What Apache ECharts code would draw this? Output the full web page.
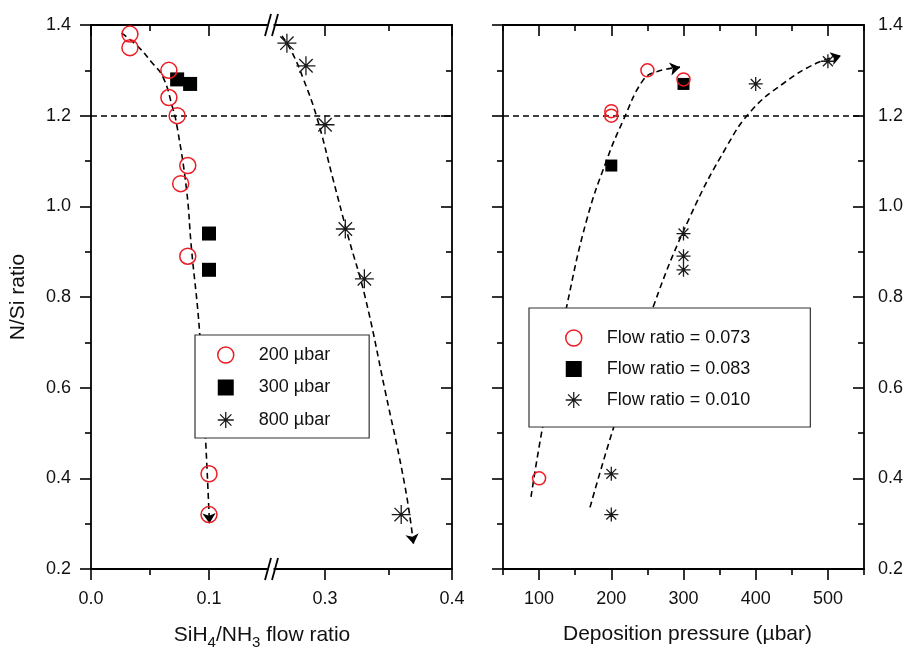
<!DOCTYPE html>
<html>
<head>
<meta charset="utf-8">
<title>N/Si ratio</title>
<script src="https://cdn.jsdelivr.net/npm/echarts@6/dist/echarts.min.js"></script>
<style>
  html, body { margin: 0; padding: 0; background: #fff; }
  #chart { width: 904px; height: 650px; }
</style>
</head>
<body>
<div id="chart"></div>
<script>
// N/Si ratio of deposited films: against SiH4/NH3 flow ratio (left, split axis)
// and against deposition pressure (right).

// ---- left panel: N/Si vs flow ratio, one series per pressure ----
const flow200 = [[0.033, 1.38], [0.033, 1.35], [0.066, 1.30], [0.066, 1.24], [0.073, 1.20],
                 [0.082, 1.09], [0.076, 1.05], [0.082, 0.89], [0.100, 0.41], [0.100, 0.32]];
const flow300 = [[0.073, 1.28], [0.084, 1.27], [0.100, 0.94], [0.100, 0.86]];
const flow800 = [[0.270, 1.36], [0.285, 1.31], [0.300, 1.18], [0.316, 0.95], [0.331, 0.84], [0.360, 0.32]];

// hand-drawn trend lines (end with an arrow)
const trend200 = [[0.026, 1.382], [0.040, 1.352], [0.051, 1.319], [0.061, 1.285], [0.069, 1.219],
                  [0.073, 1.175], [0.081, 1.036], [0.085, 0.911], [0.092, 0.724], [0.097, 0.491], [0.1004, 0.301]];
const trend800 = [[0.2661, 1.376], [0.2740, 1.340], [0.2827, 1.283], [0.2935, 1.197], [0.3065, 1.058],
                  [0.3183, 0.933], [0.3315, 0.801], [0.3472, 0.595], [0.3630, 0.382], [0.3697, 0.255]];

// ---- right panel: N/Si vs deposition pressure, one series per flow ratio ----
const press073 = [[100, 0.40], [200, 1.21], [200, 1.20], [250, 1.30], [300, 1.28]];
const press083 = [[200, 1.09], [300, 1.27]];
const press010 = [[200, 0.41], [200, 0.32], [300, 0.94], [300, 0.89], [300, 0.86], [400, 1.27], [500, 1.32]];

const trend073 = [[88.8, 0.359], [105.0, 0.514], [138.2, 0.779], [165.9, 0.970], [193.6, 1.102],
                  [216.6, 1.190], [244.3, 1.279], [262.9, 1.297], [295.2, 1.307]];
const trend010 = [[170.5, 0.336], [202.8, 0.510], [258.2, 0.779], [309.0, 0.977], [359.8, 1.132],
                  [394.5, 1.212], [438.2, 1.271], [484.5, 1.316], [518.1, 1.332]];

// stoichiometric reference level
const stoichLevel = 1.2;

// axis ranges and tick values
const ratioRange = [0.2, 1.4];
const ratioStep = 0.2;
const flowLowRange = [0, 0.15];
const flowLowMajor = [0, 0.1];
const flowLowMinor = [0.05];
const flowHighRange = [0.26, 0.4];
const flowHighMajor = [0.3, 0.4];
const flowHighMinor = [0.35];
const pressRange = [50, 550];
const pressMajor = [100, 200, 300, 400, 500];
const pressMinor = [50, 150, 250, 350, 450, 550];

const legendLeft = ['200 \u00b5bar', '300 \u00b5bar', '800 \u00b5bar'];
const legendRight = ['Flow ratio = 0.073', 'Flow ratio = 0.083', 'Flow ratio = 0.010'];

// ---- styling ----
const FONT = '"Liberation Sans", Arial, Helvetica, sans-serif';
const INK = '#000';
const RED = '#ec1c24';
const STAR = 'path://M0,-10L0,10M-10,0L10,0M-7.07,-7.07L7.07,7.07M-7.07,7.07L7.07,-7.07M-1,-1L1,-1L1,1L-1,1Z';
const SQUARE = 'path://M0,0L10,0L10,10L0,10Z';
const DASH = [6, 4];
const MAJOR = 11, MINOR = 6;

function baseAxis(extra) {
  return Object.assign({
    type: 'value',
    splitLine: { show: false },
    axisLine: { show: false, onZero: false, lineStyle: { color: INK, width: 1.8 } },
    axisTick: { show: false },
    axisLabel: { show: false },
    minorTick: { show: false }
  }, extra);
}

function tickSet(values, len, inside) {
  return { show: true, customValues: values, length: len, inside: inside, lineStyle: { color: INK, width: 1.6 } };
}

// four x axes per grid: bottom major (+labels), bottom minor, top major, top minor
function xAxesFor(gridIndex, range, major, minor, fmt) {
  const common = { gridIndex: gridIndex, min: range[0], max: range[1] };
  return [
    baseAxis(Object.assign({}, common, {
      position: 'bottom',
      axisLine: { show: true, onZero: false, lineStyle: { color: INK, width: 1.8 } },
      axisTick: tickSet(major, MAJOR, false),
      axisLabel: { show: true, customValues: major, formatter: fmt, margin: 21,
                   fontSize: 18, fontFamily: FONT, color: '#111' }
    })),
    baseAxis(Object.assign({}, common, { position: 'bottom', axisTick: tickSet(minor, MINOR, false) })),
    baseAxis(Object.assign({}, common, {
      position: 'top',
      axisLine: { show: true, onZero: false, lineStyle: { color: INK, width: 1.8 } },
      axisTick: tickSet(major, MAJOR, true)
    })),
    baseAxis(Object.assign({}, common, { position: 'top', axisTick: tickSet(minor, MINOR, true) }))
  ];
}

function yAxisFor(gridIndex, position, inside, labels, extra) {
  return baseAxis(Object.assign({
    gridIndex: gridIndex,
    position: position,
    min: ratioRange[0], max: ratioRange[1], interval: ratioStep,
    axisLine: { show: true, onZero: false, lineStyle: { color: INK, width: 1.8 } },
    axisTick: { show: true, length: MAJOR, inside: inside, lineStyle: { color: INK, width: 1.6 } },
    minorTick: { show: true, splitNumber: 2, length: MINOR, lineStyle: { color: INK, width: 1.6 } },
    axisLabel: labels ? Object.assign({ show: true, formatter: v => v.toFixed(1),
                                        fontSize: 18, fontFamily: FONT, color: '#111' }, labels)
                      : { show: false }
  }, extra || {}));
}

const xAxes = []
  .concat(xAxesFor(0, flowLowRange, flowLowMajor, flowLowMinor, v => v.toFixed(1)))
  .concat(xAxesFor(1, flowHighRange, flowHighMajor, flowHighMinor, v => v.toFixed(1)))
  .concat(xAxesFor(2, pressRange, pressMajor, pressMinor, v => String(v)));

// pressure axis title
Object.assign(xAxes[8], {
  name: 'Deposition pressure (\u00b5bar)',
  nameLocation: 'middle',
  nameGap: 55,
  nameTextStyle: { fontSize: 21, fontFamily: FONT, color: '#111', padding: [0, 0, 0, 8] }
});

const yAxes = [
  yAxisFor(0, 'left', false, { margin: 20 }, {
    name: 'N/Si ratio', nameLocation: 'middle', nameGap: 62,
    nameTextStyle: { fontSize: 21, fontFamily: FONT, color: '#111' }
  }),
  yAxisFor(1, 'right', true, null),
  yAxisFor(2, 'left', false, null),
  yAxisFor(2, 'right', true, { margin: 14 })
];

const refLine = {
  silent: true,
  symbol: 'none',
  label: { show: false },
  lineStyle: { color: INK, type: DASH, width: 1.6, opacity: 1 },
  data: [{ yAxis: stoichLevel }]
};

const markStyles = {
  circle: { symbol: 'circle', z: 5,
            itemStyle: { color: 'rgba(255,255,255,0)', borderColor: RED, borderWidth: 1.5, opacity: 1 } },
  square: { symbol: SQUARE, z: 4,
            itemStyle: { color: INK, borderColor: INK, borderWidth: 0, opacity: 1 } },
  star: { symbol: STAR, z: 4,
          itemStyle: { color: '#1a1a1a', borderColor: '#1a1a1a', borderWidth: 1.3, opacity: 1 } }
};

function scatter(name, data, xi, yi, kind, size, extra) {
  const s = markStyles[kind];
  return Object.assign({
    type: 'scatter', name: name, data: data, xAxisIndex: xi, yAxisIndex: yi,
    symbol: s.symbol, symbolSize: size, itemStyle: s.itemStyle, z: s.z,
    silent: true, animation: false
  }, extra || {});
}

function trendLine(data, xi, yi) {
  return [
    {
      type: 'line', data: data, xAxisIndex: xi, yAxisIndex: yi,
      smooth: 0.45, symbol: 'none', showSymbol: false, silent: true, animation: false, z: 2,
      lineStyle: { color: INK, type: DASH, width: 1.6, opacity: 1 }
    },
    {
      // arrowhead at the end of the trend line
      type: 'lines', coordinateSystem: 'cartesian2d', xAxisIndex: xi, yAxisIndex: yi,
      data: [{ coords: data.slice(-2) }],
      symbol: ['none', 'arrow'], symbolSize: 10, silent: true, animation: false, z: 3,
      lineStyle: { color: INK, width: 0, opacity: 1 }
    }
  ];
}

const series = [
  scatter(legendLeft[0], flow200, 0, 0, 'circle', 16, { markLine: refLine }),
  scatter(legendLeft[1], flow300, 0, 0, 'square', 14),
  scatter(legendLeft[2], flow800, 4, 1, 'star', 19, { markLine: refLine }),
  scatter(legendRight[0], press073, 8, 2, 'circle', 13, { markLine: refLine }),
  scatter(legendRight[1], press083, 8, 2, 'square', 12),
  scatter(legendRight[2], press010, 8, 2, 'star', 14)
]
  .concat(trendLine(trend200, 0, 0))
  .concat(trendLine(trend800, 4, 1))
  .concat(trendLine(trend073, 8, 2))
  .concat(trendLine(trend010, 8, 2));

function legendData(names) {
  return [
    { name: names[0], itemStyle: markStyles.circle.itemStyle },
    { name: names[1], itemStyle: markStyles.square.itemStyle },
    { name: names[2], itemStyle: markStyles.star.itemStyle }
  ];
}

const legendBase = {
  orient: 'vertical',
  itemWidth: 56,
  itemHeight: 16,
  selectedMode: false,
  backgroundColor: '#fff',
  borderColor: '#333',
  borderWidth: 1.2,
  borderRadius: 0,
  textStyle: { fontSize: 18, fontFamily: FONT, color: '#111' }
};

const breakX = [268, 275];
const breakY = [25, 569];
const breakMarks = [];
breakY.forEach(y => breakX.forEach(x => {
  breakMarks.push({
    type: 'line', silent: true, z: 10,
    shape: { x1: x - 3, y1: y + 11, x2: x + 3, y2: y - 11 },
    style: { stroke: INK, lineWidth: 1.8 }
  });
}));

const chart = echarts.init(document.getElementById('chart'), null, { renderer: 'canvas' });
chart.setOption({
  backgroundColor: '#fff',
  animation: false,
  grid: [
    { left: 91, top: 25, width: 177, height: 544, containLabel: false, outerBoundsMode: 'none' },
    { left: 274.2, top: 25, width: 177.8, height: 544, containLabel: false, outerBoundsMode: 'none' },
    { left: 503, top: 25, width: 361, height: 544, containLabel: false, outerBoundsMode: 'none' }
  ],
  xAxis: xAxes,
  yAxis: yAxes,
  legend: [
    Object.assign({}, legendBase, { data: legendData(legendLeft), left: 195, top: 335,
                                    itemGap: 14.5, padding: [11, 39, 9, 22] }),
    Object.assign({}, legendBase, { data: legendData(legendRight), left: 529, top: 308,
                                    itemGap: 13, padding: [21, 60, 18, 36] })
  ],
  graphic: breakMarks.concat([
    {
      type: 'text', x: 262, y: 635, silent: true,
      style: {
        text: 'SiH{s|4}/NH{s|3} flow ratio',
        fontSize: 21, fontFamily: FONT, fill: '#111',
        align: 'center', verticalAlign: 'middle',
        rich: { s: { fontSize: 15, fontFamily: FONT, fill: '#111', padding: [16, 0, 0, 0] } }
      }
    }
  ]),
  series: series
});
</script>
</body>
</html>
